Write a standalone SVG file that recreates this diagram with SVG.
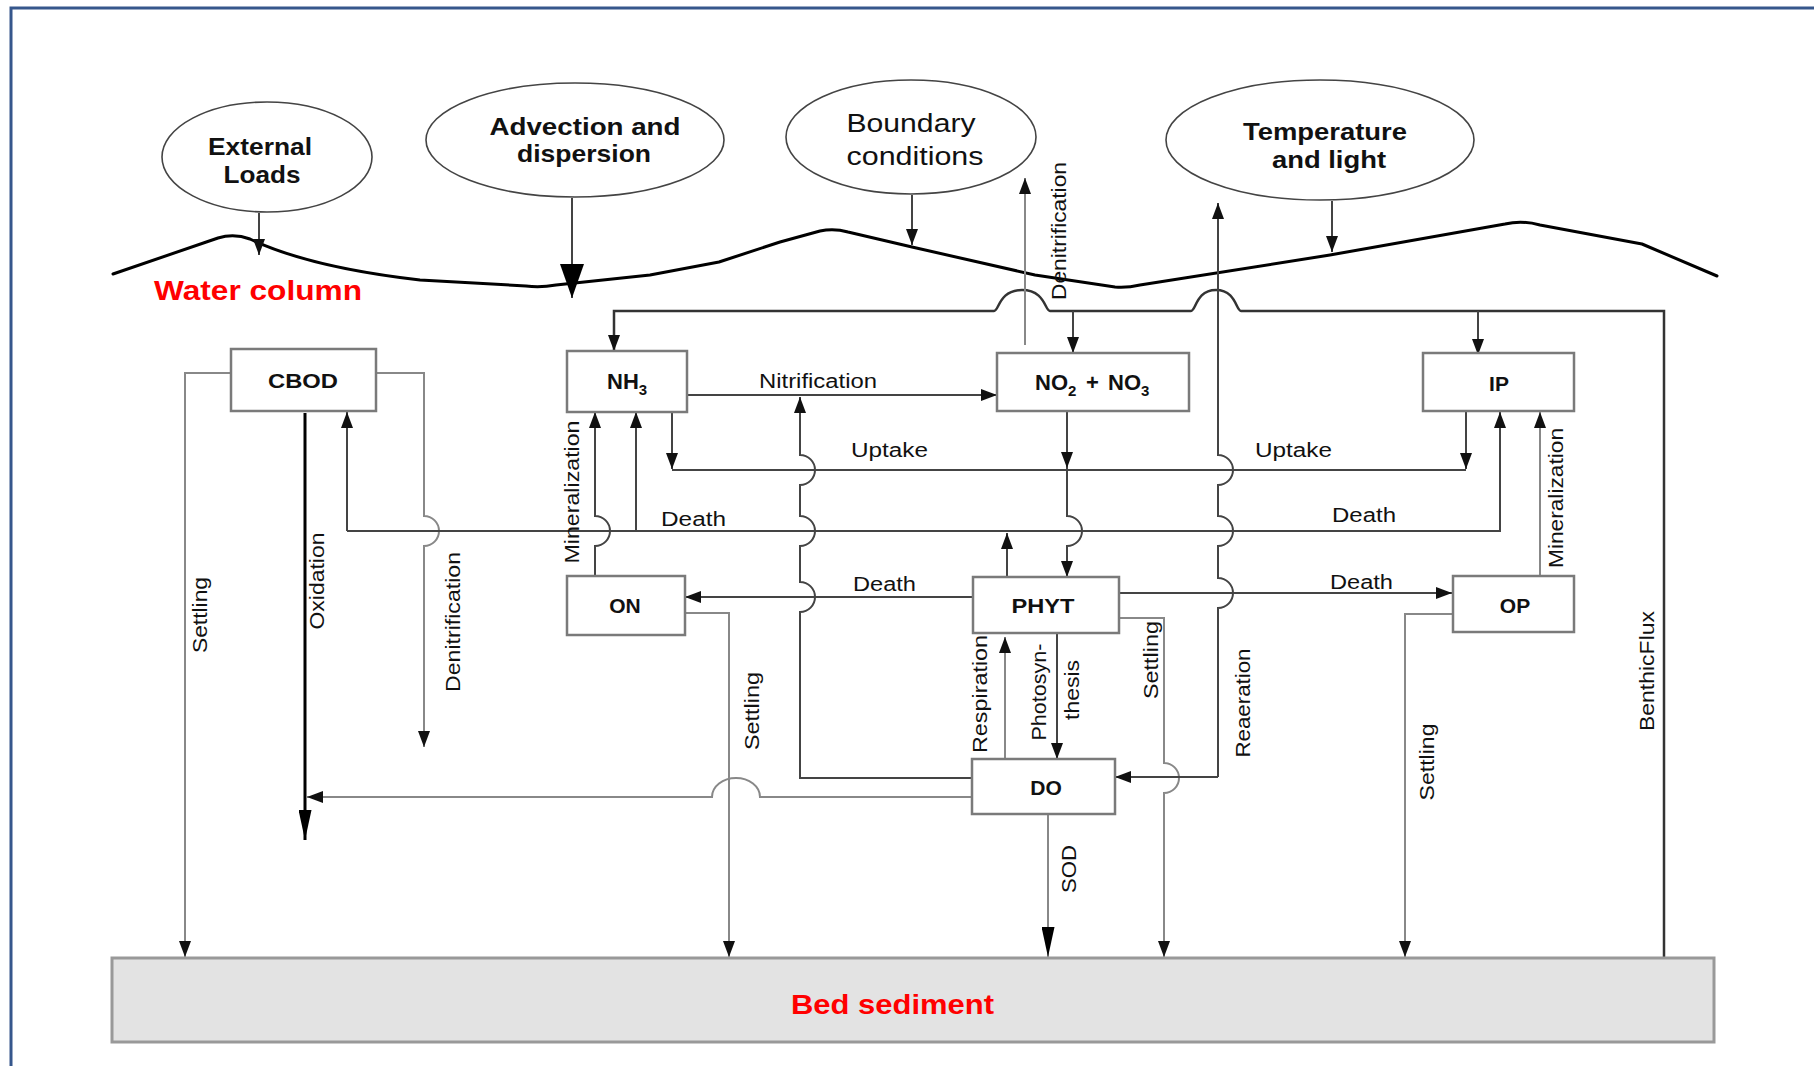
<svg xmlns="http://www.w3.org/2000/svg" width="1814" height="1066" viewBox="0 0 1814 1066">
  <defs>
    <!-- standard filled arrowhead -->
    <marker id="ah" viewBox="0 0 16 12" refX="16" refY="6" markerWidth="16" markerHeight="12" orient="auto" markerUnits="userSpaceOnUse">
      <path d="M0,0 L16,6 L0,12 Z" fill="#111"/>
    </marker>
    <!-- long narrow arrowhead -->
    <marker id="ahL" viewBox="0 0 30 13" refX="30" refY="6.5" markerWidth="30" markerHeight="13" orient="auto" markerUnits="userSpaceOnUse">
      <path d="M0,0 L30,6.5 L0,13 Z" fill="#000"/>
    </marker>
    <!-- wide arrowhead -->
    <marker id="ahB" viewBox="0 0 34 24" refX="34" refY="12" markerWidth="34" markerHeight="24" orient="auto" markerUnits="userSpaceOnUse">
      <path d="M0,0 L34,12 L0,24 Z" fill="#000"/>
    </marker>
    <style>
      .frame{fill:none;stroke:#36578c;stroke-width:3}
      .surf{fill:none;stroke:#000;stroke-width:3;stroke-linejoin:round;stroke-linecap:round}
      .ell{fill:#fff;stroke:#444;stroke-width:1.6}
      .box{fill:#fff;stroke:#7a7a7a;stroke-width:2.5}
      .bed{fill:#e3e3e3;stroke:#999;stroke-width:3}
      text{font-family:"Liberation Sans",Arial,Helvetica,sans-serif;fill:#111}
      .nb{font-size:21px;font-weight:bold;text-anchor:middle}
      .ns{font-size:22px;font-weight:bold}
      .sub{font-size:15px}
      .eb{font-size:24px;font-weight:bold;text-anchor:middle}
      .er{font-size:26px;text-anchor:middle}
      .lb{font-size:20px}
      .rl{font-size:20px;text-anchor:middle}
      .red{font-size:28px;font-weight:bold;fill:#f00}
      #connectors path{fill:none;stroke:#444;stroke-width:2}
      #connectors path.g{stroke:#888}
      #connectors path.k{stroke:#000;stroke-width:3}
      #connectors path.b{stroke:#333;stroke-width:2.5}
      #connectors path.a{marker-end:url(#ah)}
    </style>
  </defs>

  <rect width="1814" height="1066" fill="#fff"/>
  <path class="frame" d="M11,1066 V8 H1814"/>

  <!-- water surface -->
  <path class="surf" d="M113,274 L218,238 Q234,233 250,239 C290,258 350,272 420,280 L526,286 Q540,288 556,285 L650,275 L719,262 L780,242 L820,231 Q834,228 848,232 L912,247 L1035,275 L1115,287 Q1127,288 1140,285 L1330,255 L1505,224 Q1522,220 1540,225 L1642,244 L1717,276"/>
  <text class="red" x="154" y="300" textLength="208" lengthAdjust="spacingAndGlyphs">Water column</text>

  <!-- external drivers -->
  <g id="external-loads">
    <ellipse class="ell" cx="267" cy="157" rx="105" ry="55"/>
    <text class="eb" x="260" y="155" textLength="104" lengthAdjust="spacingAndGlyphs">External</text>
    <text class="eb" x="262" y="183" textLength="77" lengthAdjust="spacingAndGlyphs">Loads</text>
  </g>
  <g id="advection-dispersion">
    <ellipse class="ell" cx="575" cy="140" rx="149" ry="57"/>
    <text class="eb" x="585" y="135" textLength="191" lengthAdjust="spacingAndGlyphs">Advection and</text>
    <text class="eb" x="584" y="162" textLength="134" lengthAdjust="spacingAndGlyphs">dispersion</text>
  </g>
  <g id="boundary-conditions">
    <ellipse class="ell" cx="911" cy="137" rx="125" ry="57"/>
    <text class="er" x="911" y="132" textLength="129" lengthAdjust="spacingAndGlyphs">Boundary</text>
    <text class="er" x="915" y="165" textLength="137" lengthAdjust="spacingAndGlyphs">conditions</text>
  </g>
  <g id="temperature-light">
    <ellipse class="ell" cx="1320" cy="140" rx="154" ry="60"/>
    <text class="eb" x="1325" y="140" textLength="164" lengthAdjust="spacingAndGlyphs">Temperature</text>
    <text class="eb" x="1329" y="168" textLength="114" lengthAdjust="spacingAndGlyphs">and light</text>
  </g>

  <!-- connectors -->
  <g id="connectors">
    <!-- external inputs -->
    <path class="a" d="M259,213 V255"/>
    <path d="M572,198 V298" marker-end="url(#ahB)"/>
    <path class="a" d="M912,195 V245"/>
    <path class="a" d="M1332,201 V252"/>

    <!-- benthic flux feed line -->
    <path class="a b" d="M1664,958 V311 H1241 C1236,311 1236,290 1216,290 C1196,290 1196,311 1191,311 H1050 C1045,311 1045,290 1022,290 C999,290 999,311 994,311 H614 V351"/>
    <path class="a" d="M1073,311 V353"/>
    <path class="a" d="M1478,311 V355"/>

    <!-- denitrification to atmosphere -->
    <path class="a g" d="M1025,345 V178"/>

    <!-- CBOD -->
    <path class="a g" d="M232,373 H185 V957"/>
    <path class="k" d="M305,413 V840" marker-end="url(#ahL)"/>
    <path class="a g" d="M376,373 H424 V516 A15,15 0 0,1 424,546 V747"/>

    <!-- death network -->
    <path class="a" d="M1007,577 V533"/>
    <path class="a" d="M347,531 V412"/>
    <path class="a" d="M636,531 V412"/>
    <path class="a" d="M347,531 H1500 V412"/>

    <!-- mineralization ON -> NH3 -->
    <path class="a" d="M595,576 V546 A15,15 0 0,0 595,516 V412"/>

    <!-- uptake -->
    <path class="a" d="M672,412 V469"/>
    <path d="M672,470 H1466"/>
    <path class="a" d="M1466,412 V469"/>
    <path class="a" d="M1067,412 V468"/>
    <path class="a" d="M1067,468 V516 A15,15 0 0,1 1067,546 V577"/>

    <!-- nitrification -->
    <path class="a" d="M688,395 H997"/>
    <path class="a" d="M972,778 H800 V612 A15,15 0 0,0 800,582 V546 A15,15 0 0,0 800,516 V485 A15,15 0 0,0 800,455 V397"/>

    <!-- PHYT outputs -->
    <path class="a" d="M973,597 H685"/>
    <path class="a" d="M1120,593 H1452"/>
    <path class="a g" d="M1120,618 H1164 V763 A15,15 0 0,1 1164,793 V957"/>
    <path class="a g" d="M1005,759 V637"/>
    <path class="a" d="M1057,633 V759"/>

    <!-- ON / OP settling, OP mineralization -->
    <path class="a g" d="M685,613 H729 V957"/>
    <path class="a g" d="M1453,614 H1405 V957"/>
    <path class="a g" d="M1540,576 V412"/>

    <!-- DO links -->
    <path class="a g" d="M972,797 H760 A24,19 0 0,0 712,797 H307"/>
    <path class="g" d="M1048,814 V957" marker-end="url(#ahL)"/>
    <path class="a" d="M1218,777 V608 A15,15 0 0,0 1218,578 V546 A15,15 0 0,0 1218,516 V485 A15,15 0 0,0 1218,455 V203"/>
    <path class="a" d="M1218,777 H1115"/>

    <!-- process labels -->
    <text class="lb" x="759" y="388" textLength="118" lengthAdjust="spacingAndGlyphs">Nitrification</text>
    <text class="lb" x="851" y="457" textLength="77" lengthAdjust="spacingAndGlyphs">Uptake</text>
    <text class="lb" x="1255" y="457" textLength="77" lengthAdjust="spacingAndGlyphs">Uptake</text>
    <text class="lb" x="661" y="526" textLength="65" lengthAdjust="spacingAndGlyphs">Death</text>
    <text class="lb" x="1332" y="522" textLength="64" lengthAdjust="spacingAndGlyphs">Death</text>
    <text class="lb" x="853" y="591" textLength="63" lengthAdjust="spacingAndGlyphs">Death</text>
    <text class="lb" x="1330" y="589" textLength="63" lengthAdjust="spacingAndGlyphs">Death</text>

    <text class="rl" transform="translate(1066,231) rotate(-90)" textLength="138" lengthAdjust="spacingAndGlyphs">Denitrification</text>
    <text class="rl" transform="translate(207,615) rotate(-90)" textLength="76" lengthAdjust="spacingAndGlyphs">Settling</text>
    <text class="rl" transform="translate(324,581) rotate(-90)" textLength="97" lengthAdjust="spacingAndGlyphs">Oxidation</text>
    <text class="rl" transform="translate(460,622) rotate(-90)" textLength="140" lengthAdjust="spacingAndGlyphs">Denitrification</text>
    <text class="rl" transform="translate(579,492) rotate(-90)" textLength="143" lengthAdjust="spacingAndGlyphs">Mineralization</text>
    <text class="rl" transform="translate(759,711) rotate(-90)" textLength="78" lengthAdjust="spacingAndGlyphs">Settling</text>
    <text class="rl" transform="translate(987,694) rotate(-90)" textLength="118" lengthAdjust="spacingAndGlyphs">Respiration</text>
    <text class="rl" transform="translate(1046,692) rotate(-90)" textLength="97" lengthAdjust="spacingAndGlyphs">Photosyn-</text>
    <text class="rl" transform="translate(1079,690) rotate(-90)" textLength="60" lengthAdjust="spacingAndGlyphs">thesis</text>
    <text class="rl" transform="translate(1158,660) rotate(-90)" textLength="78" lengthAdjust="spacingAndGlyphs">Settling</text>
    <text class="rl" transform="translate(1076,869) rotate(-90)" textLength="48" lengthAdjust="spacingAndGlyphs">SOD</text>
    <text class="rl" transform="translate(1250,703) rotate(-90)" textLength="109" lengthAdjust="spacingAndGlyphs">Reaeration</text>
    <text class="rl" transform="translate(1434,762) rotate(-90)" textLength="77" lengthAdjust="spacingAndGlyphs">Settling</text>
    <text class="rl" transform="translate(1563,498) rotate(-90)" textLength="140" lengthAdjust="spacingAndGlyphs">Mineralization</text>
    <text class="rl" transform="translate(1654,671) rotate(-90)" textLength="120" lengthAdjust="spacingAndGlyphs">BenthicFlux</text>
  </g>

  <!-- state variables -->
  <g id="cbod">
    <rect class="box" x="231" y="349" width="145" height="62"/>
    <text class="nb" x="303" y="388" textLength="70" lengthAdjust="spacingAndGlyphs">CBOD</text>
  </g>
  <g id="nh3">
    <rect class="box" x="567" y="351" width="120" height="61"/>
    <text class="ns" x="607" y="389">NH<tspan class="sub" dy="6">3</tspan></text>
  </g>
  <g id="no2-no3">
    <rect class="box" x="997" y="353" width="192" height="58"/>
    <text class="ns" y="390"><tspan x="1035">NO</tspan><tspan class="sub" dy="6">2</tspan><tspan x="1086" dy="-6">+</tspan><tspan x="1108">NO</tspan><tspan class="sub" dy="6">3</tspan></text>
  </g>
  <g id="ip">
    <rect class="box" x="1423" y="353" width="151" height="58"/>
    <text class="nb" x="1499" y="391">IP</text>
  </g>
  <g id="on">
    <rect class="box" x="567" y="576" width="118" height="59"/>
    <text class="nb" x="625" y="613">ON</text>
  </g>
  <g id="phyt">
    <rect class="box" x="973" y="577" width="146" height="56"/>
    <text class="nb" x="1043" y="613" textLength="63" lengthAdjust="spacingAndGlyphs">PHYT</text>
  </g>
  <g id="op">
    <rect class="box" x="1453" y="576" width="121" height="56"/>
    <text class="nb" x="1515" y="613">OP</text>
  </g>
  <g id="do">
    <rect class="box" x="972" y="759" width="143" height="55"/>
    <text class="nb" x="1046" y="795">DO</text>
  </g>
  <g id="bed-sediment">
    <rect class="bed" x="112" y="958" width="1602" height="84"/>
    <text class="red" x="791" y="1014" textLength="203" lengthAdjust="spacingAndGlyphs">Bed sediment</text>
  </g>
</svg>
